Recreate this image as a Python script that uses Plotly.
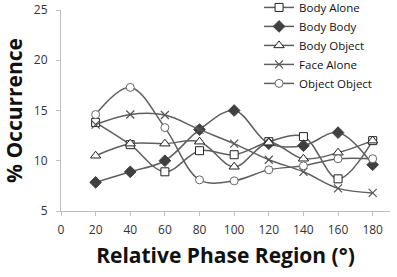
import plotly.graph_objects as go

x_vals = [20, 40, 60, 80, 100, 120, 140, 160, 180]
body_alone = [13.8, 11.6, 8.9, 11.0, 10.6, 11.9, 12.4, 8.2, 12.0]
body_body = [7.85, 8.9, 10.0, 13.1, 15.0, 11.7, 11.5, 12.8, 9.6]
body_object = [10.5, 11.7, 11.7, 11.9, 9.4, 11.8, 10.2, 10.8, 12.0]
face_alone = [13.6, 14.6, 14.55, 13.1, 11.7, 10.1, 8.9, 7.25, 6.8]
object_object = [14.6, 17.3, 13.3, 8.1, 8.0, 9.1, 9.5, 10.2, 10.2]

series = [
    ("Body Alone", body_alone, dict(symbol="square", size=8, color="white", line=dict(color="#222222", width=1))),
    ("Body Body", body_body, dict(symbol="diamond", size=9, color="#404040", line=dict(color="#404040", width=1))),
    ("Body Object", body_object, dict(symbol="triangle-up", size=9, color="white", line=dict(color="#222222", width=1))),
    ("Face Alone", face_alone, dict(symbol="x-thin-open", size=8, color="#555555", line=dict(color="#555555", width=1.2))),
    ("Object Object", object_object, dict(symbol="circle", size=8, color="white", line=dict(color="#666666", width=1))),
]

fig = go.Figure()
for name, vals, marker in series:
    fig.add_trace(go.Scatter(
        x=x_vals, y=vals, name=name, mode="lines+markers",
        line=dict(color="#5f5f5f", width=1.5, shape="spline", smoothing=1.0),
        marker=marker,
    ))

axis_font = dict(family="Open Sans, Liberation Sans, sans-serif", size=12, color="#333333")
xtitle_font = dict(family="Open Sans, Liberation Sans, sans-serif", size=21, color="#111111", weight="bold")
ytitle_font = dict(family="Open Sans, Liberation Sans, sans-serif", size=21, color="#111111", weight="bold")

fig.update_layout(
    width=397, height=277,
    margin=dict(l=61, r=7, t=10, b=66, autoexpand=False),
    paper_bgcolor="white", plot_bgcolor="white",
    showlegend=True,
    legend=dict(x=0.602, y=1.085, xanchor="left", yanchor="top",
                font=dict(family="Open Sans, Liberation Sans, sans-serif", size=11.5, color="#111111"),
                bgcolor="rgba(0,0,0,0)", tracegroupgap=0, itemwidth=30),
    xaxis=dict(range=[0, 190], tickvals=[0, 20, 40, 60, 80, 100, 120, 140, 160, 180],
               showgrid=False, zeroline=False, showline=True, linecolor="#bfbfbf", linewidth=1,
               ticks="outside", ticklen=4, tickcolor="#bfbfbf", tickfont=axis_font,
               ticklabelstandoff=4, automargin=False, tickangle=0,
               title=dict(text="Relative Phase Region (°)", font=xtitle_font, standoff=10)),
    yaxis=dict(range=[5, 25], tickvals=[5, 10, 15, 20, 25],
               showgrid=False, zeroline=False, showline=True, linecolor="#bfbfbf", linewidth=1,
               ticks="outside", ticklen=4, tickcolor="#bfbfbf", tickfont=axis_font,
               ticklabelstandoff=6, automargin=False,
               title=dict(text="% Occurrence", font=ytitle_font, standoff=6)),
)

fig.write_html("out.html", config={"displayModeBar": False},
               post_script="document.body.style.margin='0px';")
